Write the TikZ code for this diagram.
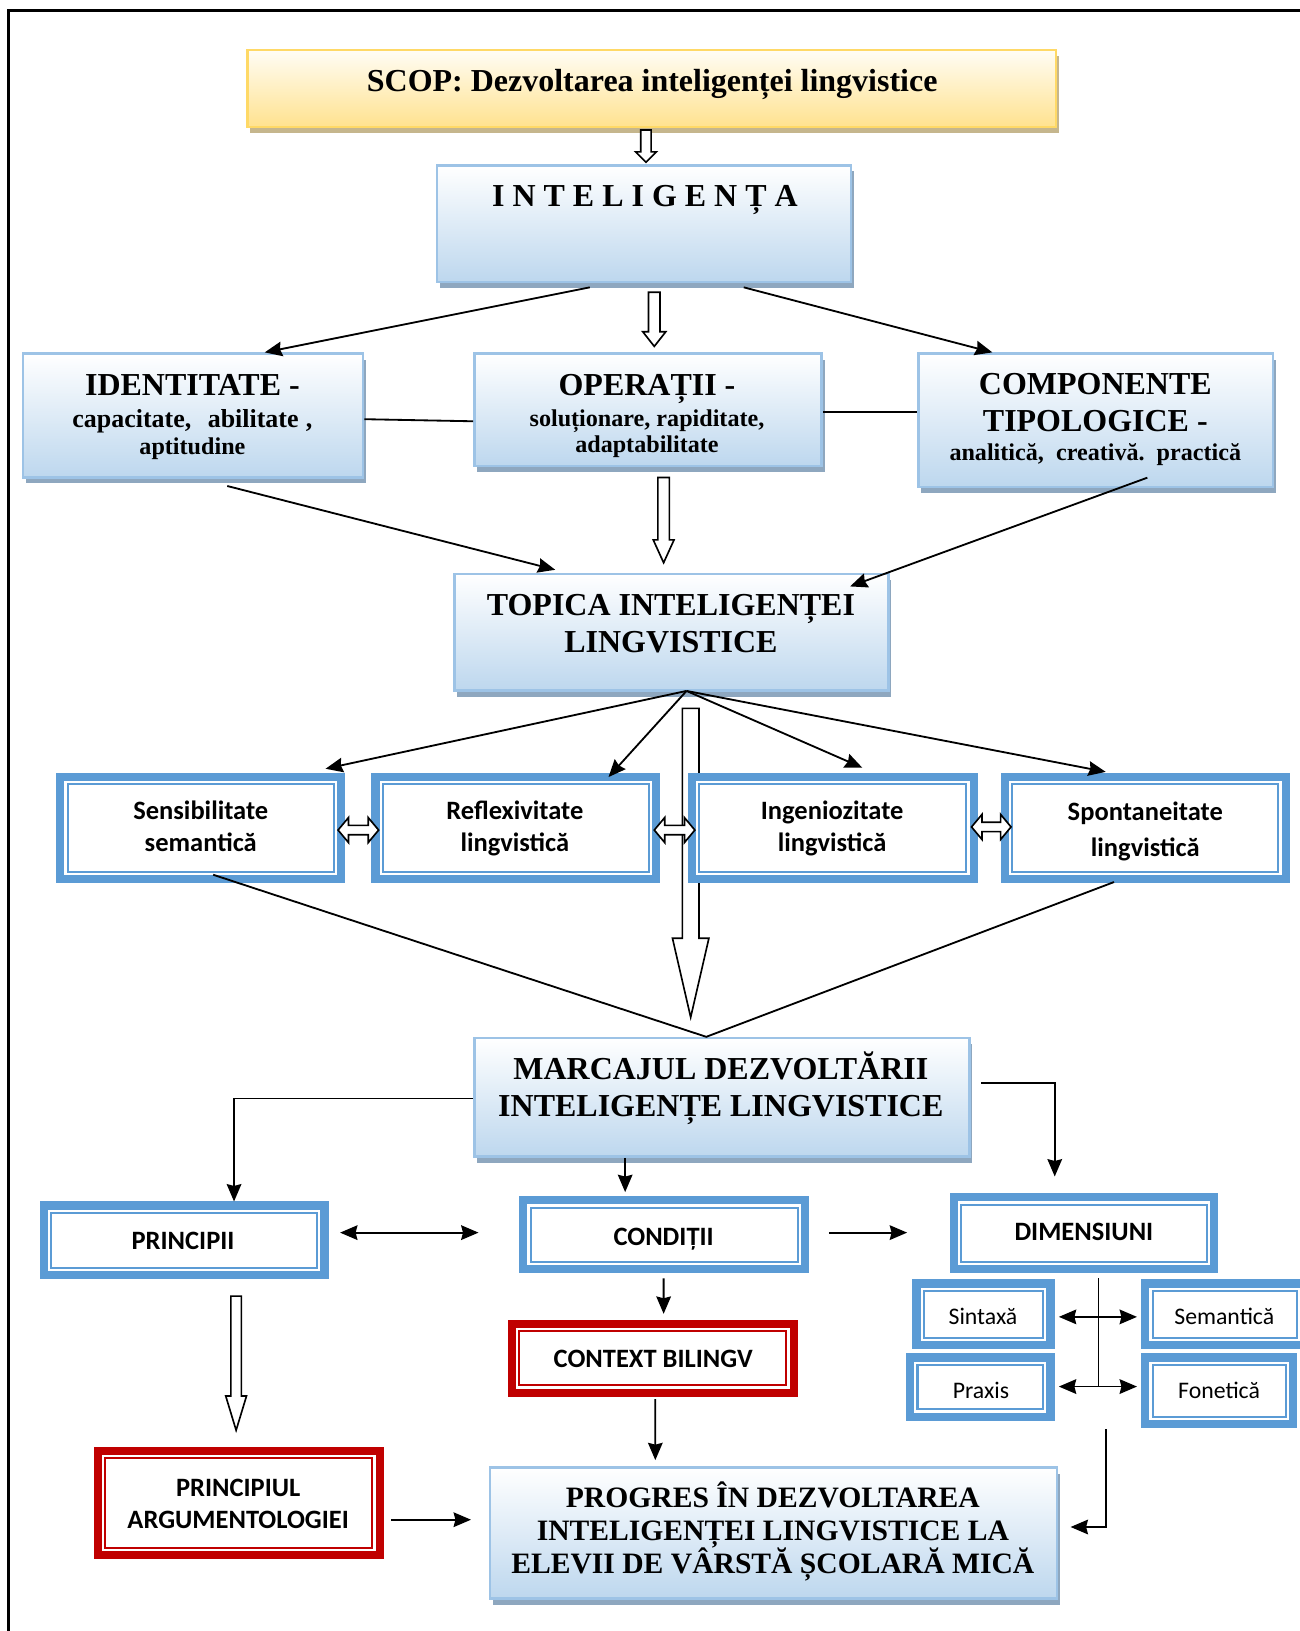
\documentclass[tikz,border=0pt]{standalone}
\usepackage{fontspec}
\setmainfont{Liberation Serif}
\newfontfamily\calfont{Carlito}
\usetikzlibrary{calc,shadows,arrows.meta}

\definecolor{gedge}{HTML}{9DC3E6}
\definecolor{gbot}{HTML}{BDD7EE}
\definecolor{gshadow}{HTML}{8EA7BF}
\definecolor{dblue}{HTML}{5B9BD5}
\definecolor{dred}{HTML}{C00000}
\definecolor{ytop}{HTML}{FFFDF5}
\definecolor{ybot}{HTML}{FFE28F}
\definecolor{yedge}{HTML}{FFD966}
\definecolor{yshadow}{HTML}{C5B68D}

\tikzset{
  gbox/.style={draw=gedge, line width=1.4pt, top color=white, bottom color=gbot, inner sep=0,
    drop shadow={shadow xshift=1.6pt, shadow yshift=-3.2pt, fill=gshadow, opacity=1}},
  ybox/.style={draw=yedge, line width=1.4pt, top color=ytop, bottom color=ybot, inner sep=0,
    drop shadow={shadow xshift=1.6pt, shadow yshift=-3.2pt, fill=yshadow, opacity=1}},
  ttl/.style={font=\bfseries\fontsize{17.5}{20}\selectfont, anchor=base, inner sep=0},
  ttlb/.style={font=\bfseries\fontsize{16.2}{19}\selectfont, anchor=base, inner sep=0},
  subt/.style={font=\bfseries\fontsize{13.2}{15}\selectfont, anchor=base, inner sep=0},
  sbold/.style={font=\calfont\bfseries\fontsize{14.5}{17}\selectfont, anchor=base, inner sep=0},
  sreg/.style={font=\calfont\fontsize{13}{15}\selectfont, anchor=base, inner sep=0},
  conn/.style={line width=1pt, -{Stealth[length=9.5pt,width=8pt,inset=1pt]}},
  conn2/.style={line width=1pt, {Stealth[length=9.5pt,width=8pt,inset=1pt]}-{Stealth[length=9.5pt,width=8pt,inset=1pt]}},
  plain/.style={line width=1pt},
  hollow/.style={line width=0.9pt, fill=white, line join=miter}
}

% gradient box: name, x1,y1,x2,y2, style
\newcommand\gboxat[6]{\node[#6, minimum width={(#4-#2)*0.02cm}, minimum height={(#5-#3)*0.02cm}] (#1) at ({(#2+#4)/2},{(#3+#5)/2}) {};}
% double box: name, x1,y1,x2,y2, color
\newcommand\dboxat[6]{%
  \node[draw=#6, line width=4.5pt, fill=white, inner sep=0, minimum width={(#4-#2-8)*0.02cm}, minimum height={(#5-#3-8)*0.02cm}] (#1) at ({(#2+#4)/2},{(#3+#5)/2}) {};
  \draw[#6, line width=1.1pt] ($(#1.north west)+(11,11)$) rectangle ($(#1.south east)+(-11,-11)$);}
% hollow down arrow: x, ytop, ytip, shaft half, head half, head length
\newcommand\hdown[6]{\draw[hollow] ({#1-#4},#2) -- ({#1+#4},#2) -- ({#1+#4},{#3-#6}) -- ({#1+#5},{#3-#6}) -- (#1,#3) -- ({#1-#5},{#3-#6}) -- ({#1-#4},{#3-#6}) -- cycle;}
% hollow double horizontal arrow: x1, x2, y, shaft half, head half, head length
\newcommand\hboth[6]{\draw[hollow] (#1,#3) -- ({#1+#6},{#3-#5}) -- ({#1+#6},{#3-#4}) -- ({#2-#6},{#3-#4}) -- ({#2-#6},{#3-#5}) -- (#2,#3) -- ({#2-#6},{#3+#5}) -- ({#2-#6},{#3+#4}) -- ({#1+#6},{#3+#4}) -- ({#1+#6},{#3+#5}) -- cycle;}

\begin{document}
\begin{tikzpicture}[x=0.02cm,y=-0.02cm]
\useasboundingbox (0,0) rectangle (1249,1568);
\fill[white] (0,0) rectangle (1249,1568);

% frame
\draw[line width=1.3pt] (8,1580) -- (8,10) -- (1265,10);

% ---------- top boxes ----------
\gboxat{scop}{238}{48}{1015}{122}{ybox}
\node[ttl] (tscop) at (627,88) {SCOP: Dezvoltarea inteligenței lingvistice};

\hdown{621}{125}{156}{5}{10}{10}

\gboxat{intel}{420}{159}{818}{271}{gbox}
\node[ttl] (tintel) at (620,199) {I\ N\ T\ E\ L\ I\ G\ E\ N\ Ț\ A};

\hdown{629}{281}{333}{5.5}{11}{14}

\gboxat{ident}{22}{340}{349}{459}{gbox}
\gboxat{oper}{456}{340}{790}{448}{gbox}
\gboxat{comp}{883}{340}{1224}{468}{gbox}

\node[ttl]  (tid1) at (185,380) {IDENTITATE -};
\node[subt, font=\bfseries\fontsize{14.2}{16}\selectfont] (tid2) at (185,411) {capacitate,\hspace{9pt}abilitate\hspace{4pt},};
\node[subt] (tid3) at (185,437) {aptitudine};
\node[ttl]  (top1) at (622,380) {OPERAȚII -};
\node[subt] (top2) at (622,410) {soluționare, rapiditate,};
\node[subt] (top3) at (622,435) {adaptabilitate};
\node[ttl]  (tco1) at (1053,379) {COMPONENTE};
\node[ttl]  (tco2) at (1053,415) {TIPOLOGICE -};
\node[subt] (tco3) at (1053,443) {analitică,\ \ creativă.\ \ practică};

\draw[conn] ($(intel.south)+(-52,4)$) -- ($(ident.north)+(69,0)$);
\draw[conn] ($(intel.south)+(96,4)$) -- ($(comp.north)+(-99.5,0)$);
\draw[plain] ($(ident.east)+(0,3.5)$) -- ($(oper.west)+(0,11)$);
\draw[plain] ($(oper.east)+(0,2)$) -- ($(comp.west)+(0,-8)$);

\hdown{638}{459}{541}{5.5}{10}{22}

\gboxat{topica}{437}{552}{854}{664}{gbox}
\node[ttl] (ttop1) at (645,592) {TOPICA INTELIGENȚEI};
\node[ttl] (ttop2) at (645,627) {LINGVISTICE};

\draw[conn] ($(ident.south)+(33,7)$) -- ($(topica.north west)+(98,-3)$);
\draw[conn] ($(comp.south)+(49.5,-10)$) -- ($(topica.north east)+(-38,13)$);

% long hollow arrow
\hdown{664}{681}{978}{8}{17.5}{76}

% ---------- four boxes ----------
\dboxat{sens}{54}{743}{332}{849}{dblue}
\dboxat{refl}{357}{743}{635}{849}{dblue}
\dboxat{ingen}{661}{743}{940}{849}{dblue}
\dboxat{spont}{962}{743}{1240}{849}{dblue}

\node[sbold] (ts1) at (193,788) {Sensibilitate};
\node[sbold] (ts2) at (193,819) {semantică};
\node[sbold] (tr1) at (495,788) {Reflexivitate};
\node[sbold] (tr2) at (495,819) {lingvistică};
\node[sbold] (ti1) at (800,788) {Ingeniozitate};
\node[sbold] (ti2) at (800,819) {lingvistică};
\node[sbold] (tp1) at (1101,789) {Spontaneitate};
\node[sbold] (tp2) at (1101,823) {lingvistică};

\coordinate (tf) at ($(topica.south)+(14.5,-1)$);
\draw[conn] (tf) -- ($(sens.north)+(120,-4)$);
\draw[conn] (tf) -- ($(refl.north)+(89,4)$);
\draw[conn] (tf) -- ($(ingen.north)+(28.5,-5)$);
\draw[conn] (tf) -- ($(spont.north)+(-38,-1)$);

\hboth{325}{364}{798}{4.5}{12}{10}
\hboth{629}{668}{798}{4.5}{12}{10}
\hboth{934}{972}{795}{4.5}{12}{10}

% ---------- MARCAJUL ----------
\gboxat{marc}{456}{998}{932}{1112}{gbox}
\node[ttl] (tm1) at (693,1038) {MARCAJUL DEZVOLTĂRII};
\node[ttl] (tm2) at (693,1073) {INTELIGENȚE LINGVISTICE};

\coordinate (mt) at ($(marc.north)+(-15,0)$);
\draw[plain] ($(sens.south)+(12,-8)$) -- (mt) -- ($(spont.south)+(-30,-1)$);

% ---------- lower boxes ----------
\dboxat{princ}{38}{1155}{316}{1230}{dblue}
\dboxat{cond}{499}{1150}{778}{1224}{dblue}
\dboxat{dim}{913}{1147}{1171}{1224}{dblue}
\dboxat{sint}{877}{1230}{1014}{1297}{dblue}
\dboxat{sem}{1097}{1230}{1258}{1297}{dblue}
\dboxat{prax}{871}{1301}{1014}{1366}{dblue}
\dboxat{fon}{1097}{1301}{1247}{1373}{dblue}
\dboxat{ctx}{488}{1269}{767}{1343}{dred}
\dboxat{parg}{90}{1391}{369}{1499}{dred}

\node[sbold] (tpr) at (176,1201) {PRINCIPII};
\node[sbold] (tcd) at (638,1197) {CONDIȚII};
\node[sbold] (tdm) at (1042,1193) {DIMENSIUNI};
\node[sreg] (tsi) at (945,1273) {Sintaxă};
\node[sreg] (tse) at (1177,1273) {Semantică};
\node[sreg] (tpx) at (943,1344) {Praxis};
\node[sreg] (tfo) at (1172,1344) {Fonetică};
\node[sbold] (tcx) at (628,1315) {CONTEXT BILINGV};
\node[sbold] (tpa1) at (229,1439) {PRINCIPIUL};
\node[sbold] (tpa2) at (229,1469) {ARGUMENTOLOGIEI};

\gboxat{prog}{471}{1411}{1016}{1537}{gbox}
\node[ttlb] (tpg1) at (743,1449) {PROGRES ÎN DEZVOLTAREA};
\node[ttlb] (tpg2) at (743,1481) {INTELIGENȚEI LINGVISTICE LA};
\node[ttlb] (tpg3) at (743,1513) {ELEVII DE VÂRSTĂ ȘCOLARĂ MICĂ};

% connectors lower part
\draw[conn] ($(marc.west)+(0,1)$) -| ($(princ.north)+(48,0)$);
\draw[conn] ($(marc.east)+(10,-14)$) -| ($(dim.north)+(-28,-16)$);
\draw[conn] ($(marc.south)+(-93,0)$) -- ($(cond.north)+(-37.5,-4)$);
\draw[conn2] ($(princ.east)+(11,-7.5)$) -- ($(cond.west)+(-39,-2)$);
\draw[conn] ($(cond.east)+(19,-2)$) -- ($(dim.west)+(-41,-0.5)$);
\coordinate (dstem) at ($(dim.south)+(14,109)$);
\draw[plain] ($(dim.south)+(14,5)$) -- (dstem);
\draw[conn2] ($(sint.east)+(4,2.5)$) -- ($(sem.west)+(-4,2.5)$);
\draw[conn2] ($(prax.east)+(4,-0.5)$) -- ($(fon.west)+(-4,-4)$);
\draw[conn] ($(cond.south)+(-0.5,5)$) -- ($(ctx.north)+(10.5,-6)$);
\draw[conn] ($(ctx.south)+(2.5,2)$) -- ($(prog.north)+(-113.5,-6)$);
\draw[conn] ($(parg.east)+(7,16)$) -- ($(prog.west)+(-17,-13)$);
\draw[conn] ($(fon.south)+(-109,1)$) |- ($(prog.east)+(12,-6)$);

\hdown{227}{1246}{1375}{5}{10}{33}
\end{tikzpicture}
\end{document}
